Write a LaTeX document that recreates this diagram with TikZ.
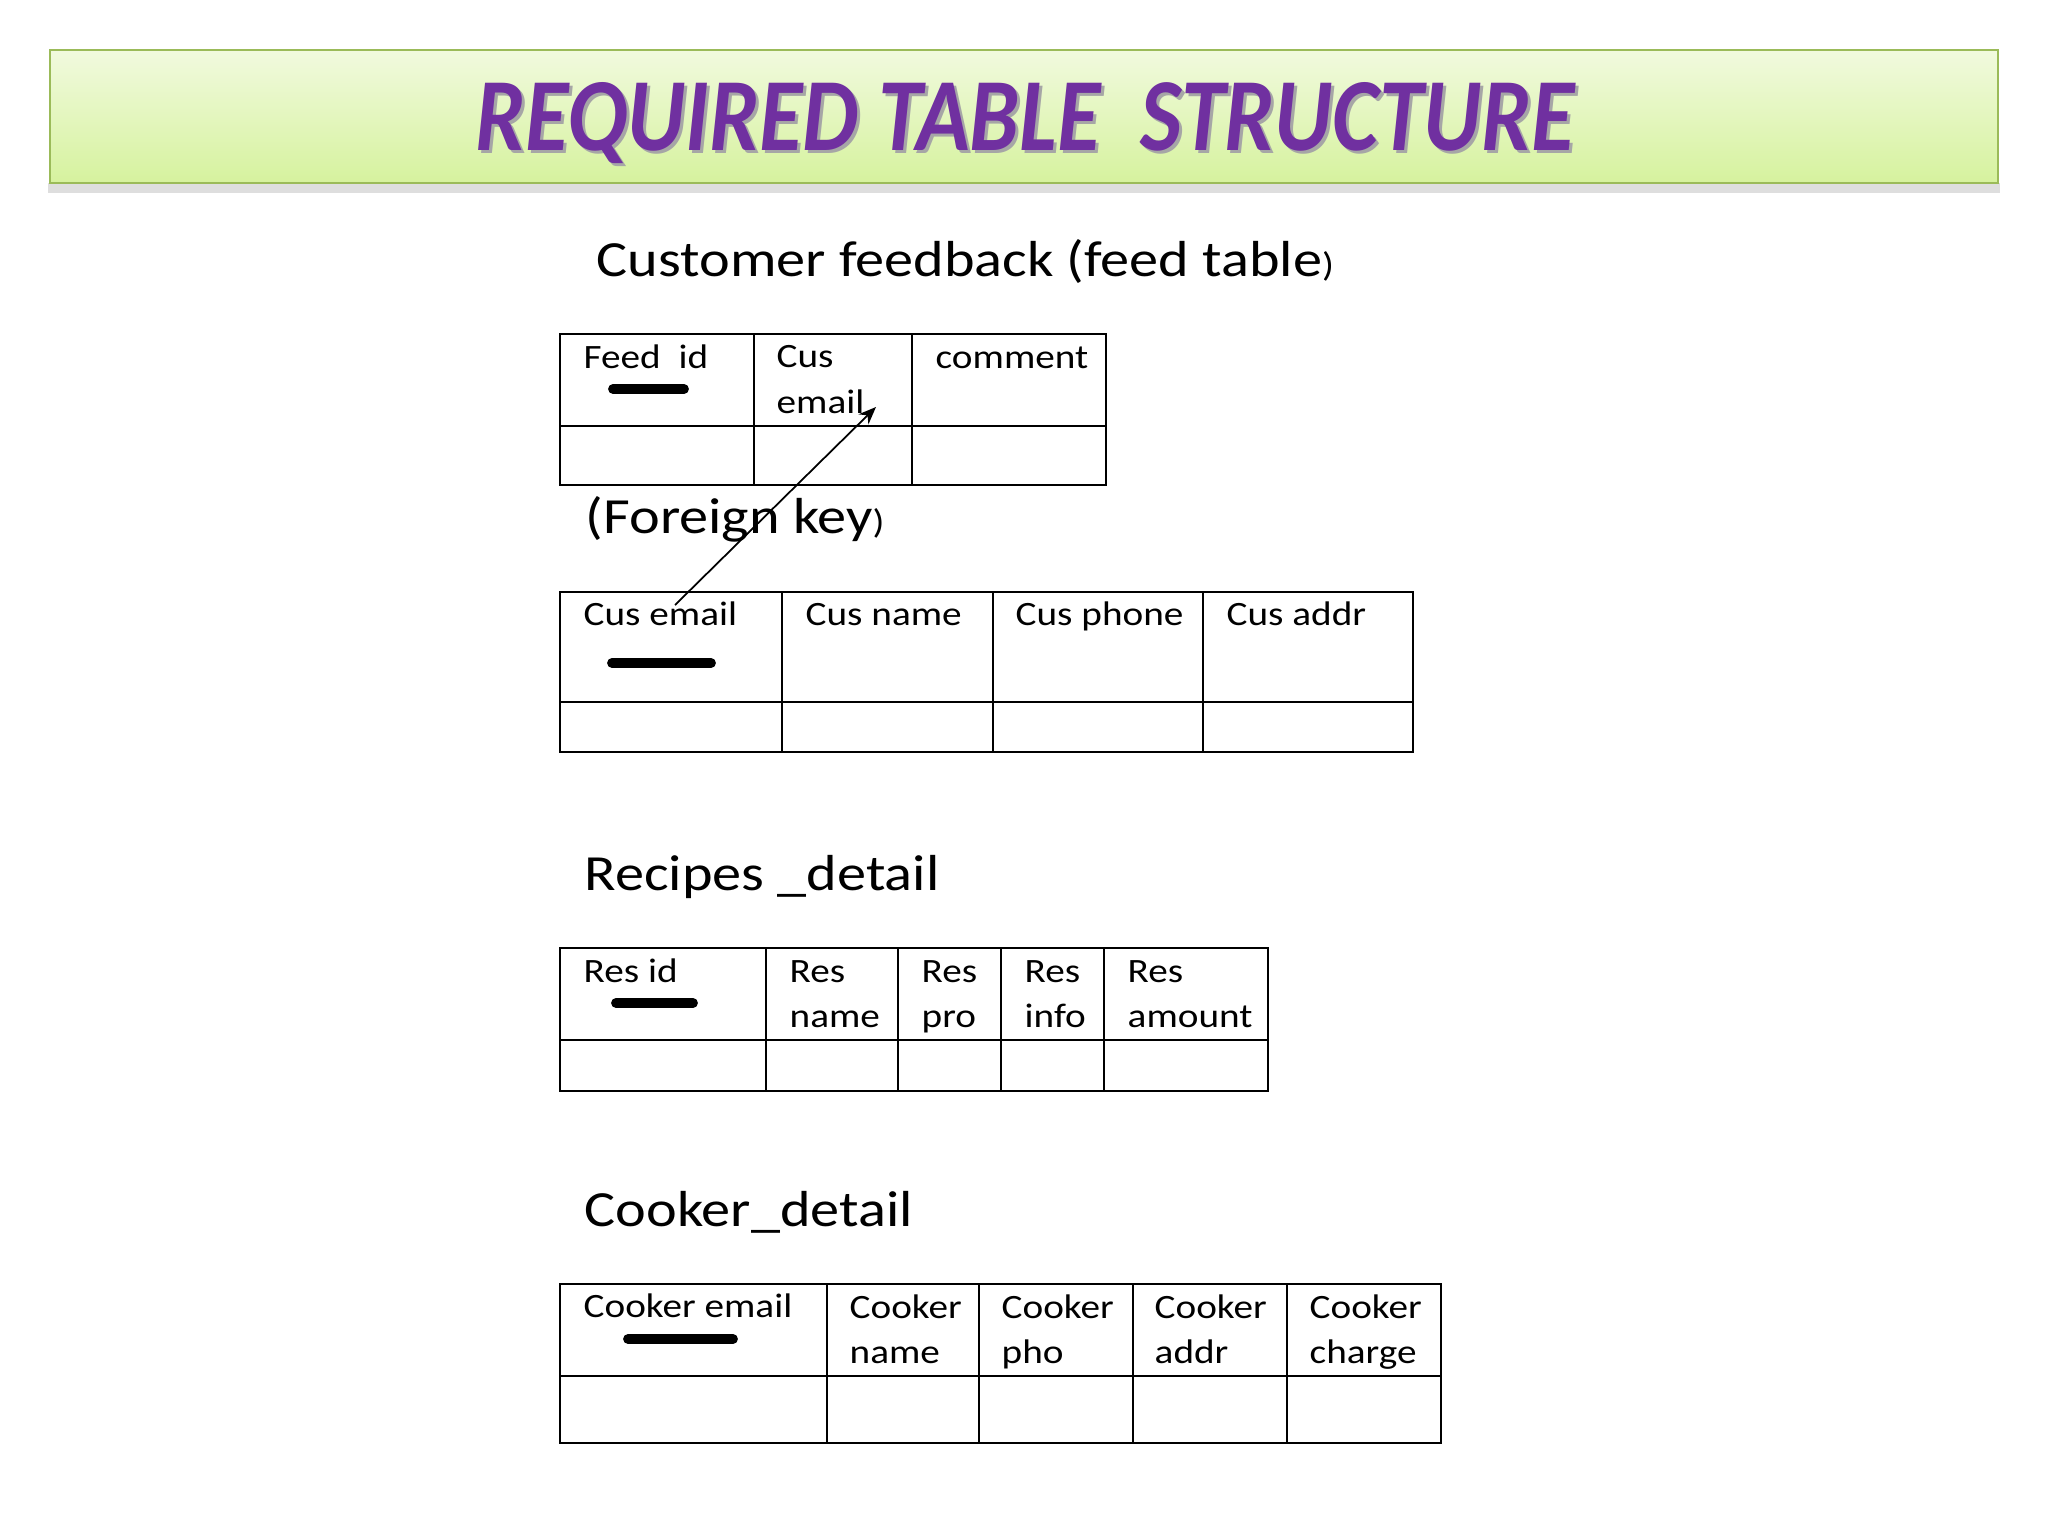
\documentclass[tikz,border=0pt]{standalone}
\usepackage{graphicx}
\usepackage{fontspec}
\setmainfont[FakeStretch=1.15]{Carlito}
\usetikzlibrary{arrows.meta}
\definecolor{bannertop}{RGB}{241,250,222}
\definecolor{bannerbot}{RGB}{214,242,158}
\definecolor{bannerline}{RGB}{155,187,89}
\definecolor{titlepurple}{RGB}{112,48,160}
\tikzset{
  tab/.style={line width=0.6pt},
  keybar/.style={line width=2.8pt,line cap=round},
  cell/.style={anchor=base west,inner sep=0pt,align=left,
    font=\fontsize{9.7}{12.8}\selectfont},
  heading/.style={anchor=base west,inner sep=0pt,
    font=\fontsize{14.4}{17}\selectfont}
}
\begin{document}
\begin{tikzpicture}[x=0.01cm,y=-0.01cm]
\useasboundingbox (0,0) rectangle (2048,1536);
% banner
\fill[black!13] (48,183) rectangle (2000,193);
\shade[top color=bannertop,bottom color=bannerbot,draw=bannerline,line width=0.8pt]
  (50,50) rectangle (1998,183);
\node[anchor=base,inner sep=0pt,text=black!35] (titleshadow) at (1028,153)
  {\resizebox{10.98cm}{0.68cm}{\bfseries\itshape REQUIRED TABLE\ \ STRUCTURE}};
\node[anchor=base,inner sep=0pt,text=titlepurple] (title) at (1025,150)
  {\resizebox{10.98cm}{0.68cm}{\bfseries\itshape REQUIRED TABLE\ \ STRUCTURE}};

% feed table
\node[heading] (hfeed) at (596,276) {Customer feedback (feed table{\fontsize{9.7}{12}\selectfont)}};
\draw[tab] (560,334) rectangle (1106,485);
\draw[tab] (560,426) -- (1106,426);
\foreach \x in {754,912}
  \draw[tab] (\x,334) -- (\x,485);
\node[cell] (feedid) at (583,368) {Feed\ \ id};
\node[cell] (fcusemail) at (776,413) {Cus\\email};
\node[cell] (fcomment) at (935,368) {comment};
\draw[keybar] (613,389) -- (684,389);
\node[heading] (hfk) at (585,533) {(Foreign key{\fontsize{9.7}{12}\selectfont)}};

% customer table
\draw[tab] (560,592) rectangle (1413,752);
\draw[tab] (560,702) -- (1413,702);
\foreach \x in {782,993,1203}
  \draw[tab] (\x,592) -- (\x,752);
\node[cell] (cusemail) at (583,625) {Cus email};
\node[cell] (cusname) at (805,625) {Cus name};
\node[cell] (cusphone) at (1015,625) {Cus phone};
\node[cell] (cusaddr) at (1226,625) {Cus addr};
\draw[keybar] (612,663) -- (711,663);
\draw[-{Stealth[length=5pt,width=4pt]},line width=0.5pt] ([shift={(92,-20)}]cusemail.base west)
  -- ([shift={(100,-6)}]fcusemail.base west);

% recipes table
\node[heading] (hres) at (584,890) {Recipes \_detail};
\draw[tab] (560,948) rectangle (1268,1091);
\draw[tab] (560,1040) -- (1268,1040);
\foreach \x in {766,898,1001,1104}
  \draw[tab] (\x,948) -- (\x,1091);
\node[cell] (resid) at (583,982) {Res id};
\node[cell] (resname) at (789,1027) {Res\\name};
\node[cell] (respro) at (921,1027) {Res\\pro};
\node[cell] (resinfo) at (1024,1027) {Res\\info};
\node[cell] (resamount) at (1127,1027) {Res\\amount};
\draw[keybar] (616,1003) -- (693,1003);

% cooker table
\node[heading] (hcook) at (584,1226) {Cooker\_detail};
\draw[tab] (560,1284) rectangle (1441,1443);
\draw[tab] (560,1376) -- (1441,1376);
\foreach \x in {827,979,1133,1287}
  \draw[tab] (\x,1284) -- (\x,1443);
\node[cell] (ckemail) at (583,1317) {Cooker email};
\node[cell] (ckname) at (849,1363) {Cooker\\name};
\node[cell] (ckpho) at (1001,1363) {Cooker\\pho};
\node[cell] (ckaddr) at (1154,1363) {Cooker\\addr};
\node[cell] (ckcharge) at (1309,1363) {Cooker\\charge};
\draw[keybar] (628,1339) -- (733,1339);
\end{tikzpicture}
\end{document}
